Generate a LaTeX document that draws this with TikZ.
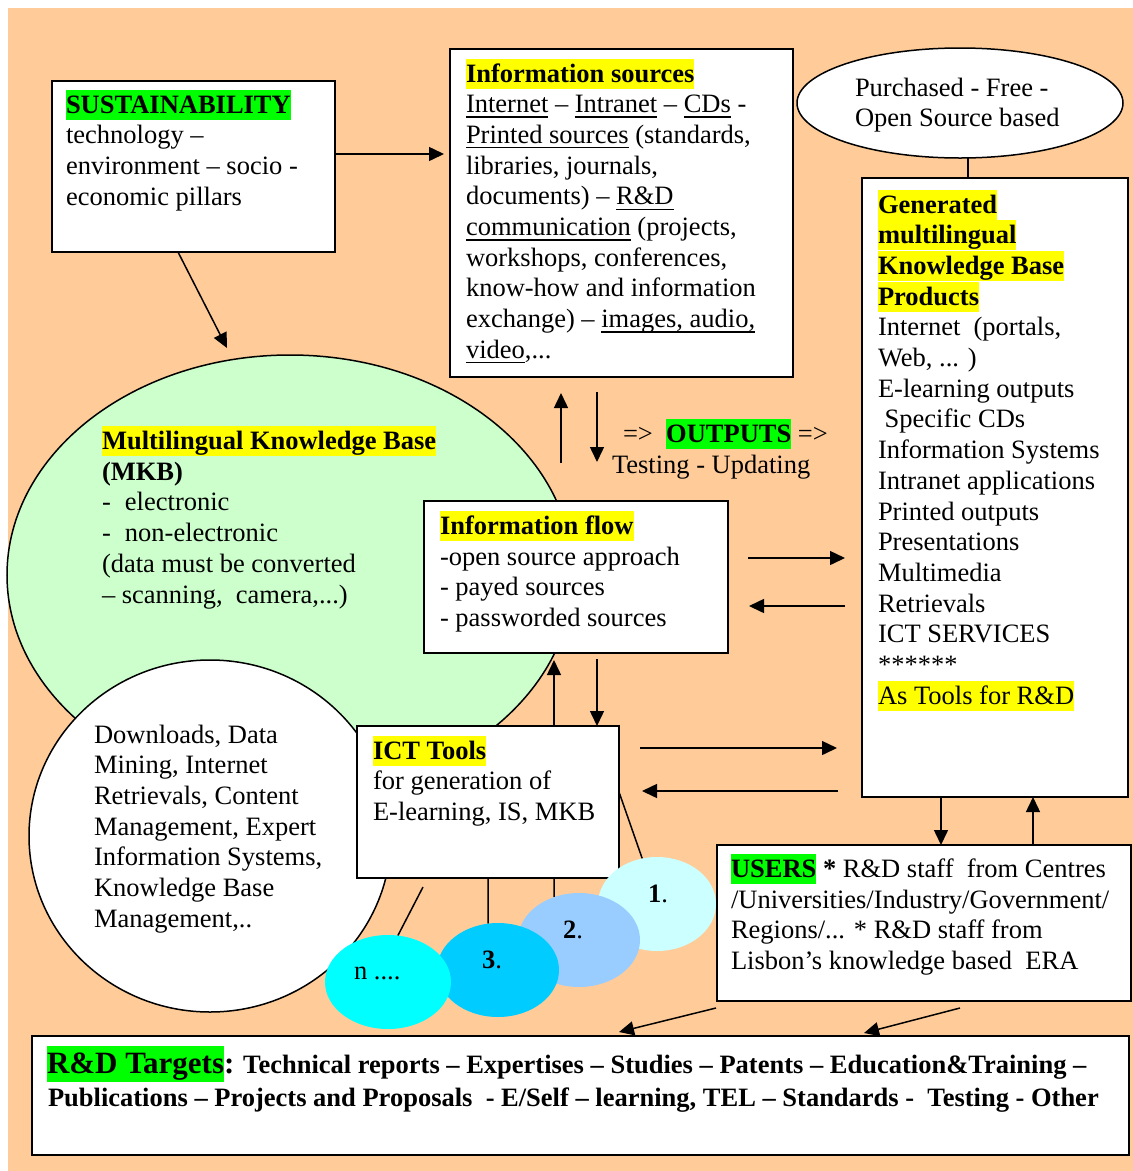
\documentclass[tikz,border=0pt]{standalone}
\usepackage{fontspec}
\setmainfont{Liberation Serif}
\usetikzlibrary{shapes.geometric,arrows.meta}
\pgfdeclarelayer{back}
\pgfdeclarelayer{mid}
\pgfsetlayers{back,mid,main}
\definecolor{bgpeach}{HTML}{FFCC99}
\definecolor{mkbgreen}{HTML}{CCFFCC}
\definecolor{hly}{HTML}{FFFF00}
\definecolor{hlg}{HTML}{00FF00}
\definecolor{eone}{HTML}{CCFFFF}
\definecolor{etwo}{HTML}{99CCFF}
\definecolor{ethree}{HTML}{00CCFF}
\definecolor{enn}{HTML}{00FFFF}
\newsavebox\ulbox
\newcommand\myul[1]{\sbox\ulbox{#1}\rlap{\rule[-5pt]{\wd\ulbox}{1.3pt}}\usebox\ulbox}
\newcommand\hly[1]{{\setlength{\fboxsep}{0pt}\colorbox{hly}{\rule[-6.5pt]{0pt}{30pt}#1}}}
\newcommand\hlg[1]{{\setlength{\fboxsep}{0pt}\colorbox{hlg}{\rule[-6.5pt]{0pt}{30pt}#1}}}
\newcommand\hlgbig[1]{{\setlength{\fboxsep}{0pt}\colorbox{hlg}{\rule[-8pt]{0pt}{36pt}#1}}}
\newcommand\fst{\rule{0pt}{23.5pt}}
\newcommand\dsh{\makebox[23pt][l]{-}}
\tikzset{
  box/.style={draw=black, line width=1.5pt, fill=white, inner sep=0pt, outer sep=0pt, anchor=north west},
  txt/.style={inner sep=0pt, outer sep=0pt, anchor=north west, align=left},
  lbl/.style={inner sep=0pt, outer sep=0pt, anchor=base west},
  arr/.style={line width=1.5pt, -{Triangle[length=15pt,width=14pt]}},
  link/.style={line width=1.5pt},
  blob/.style={ellipse, inner sep=0pt, outer sep=0pt, draw=none},
}
\begin{document}
\begin{tikzpicture}[x=1pt,y=-1pt,font=\fontsize{26.5}{30.7}\selectfont]
\useasboundingbox (0,0) rectangle (1133,1171);
\begin{pgfonlayer}{back}
\fill[white] (0,0) rectangle (1133,1171);
\fill[bgpeach] (8,8) rectangle (1133,1171);
\node[blob, draw=black, line width=1.5pt, fill=mkbgreen, minimum width=566pt, minimum height=440pt] (mkb) at (290,575) {};
\node[blob, draw=black, line width=1.5pt, fill=white, minimum width=362pt, minimum height=352pt] (dl) at (210,836) {};
\end{pgfonlayer}

% boxes
\node[box, minimum width=283pt, minimum height=171pt] (sust) at (52,81) {};
\node[box, minimum width=343pt, minimum height=328pt] (info) at (450,49) {};
\node[blob, draw=black, line width=1.5pt, fill=white, minimum width=326pt, minimum height=110pt] (src) at (960,103) {};
\node[box, minimum width=266pt, minimum height=619pt] (gen) at (862,178) {};
\draw[link] ([xshift=8pt]src.south) -- ([xshift=106pt]gen.north west);
\node[box, minimum width=304pt, minimum height=152pt] (flow) at (424,501) {};
\node[box, minimum width=262pt, minimum height=152pt] (ict) at (357,726) {};

% numbered ellipses
\node[blob, fill=eone, minimum width=118pt, minimum height=94pt] (one) at (657,904) {};
\node[blob, fill=etwo, minimum width=122pt, minimum height=94pt] (two) at (579,940) {};
\node[blob, fill=ethree, minimum width=122pt, minimum height=94pt] (three) at (498,970) {};
\node[blob, fill=enn, minimum width=126pt, minimum height=94pt] (nn) at (388,982) {};
\begin{pgfonlayer}{mid}
\draw[link] ([yshift=-66pt]ict.north east) -- (one.108);
\draw[link] ([xshift=197pt]ict.south west) -- (two.120);
\draw[link] ([xshift=131pt]ict.south west) -- (three.102);
\draw[link] ([xshift=66pt,yshift=-9pt]ict.south west) -- (nn.78);
\end{pgfonlayer}

\node[box, minimum width=414pt, minimum height=156pt] (users) at (717,845) {};
\node[box, minimum width=1097pt, minimum height=119pt] (rd) at (32,1036) {};

% arrows
\draw[arr] ([yshift=-73pt]sust.north east) -- ([xshift=-6pt,yshift=-105pt]info.north west);
\draw[arr] ([xshift=126pt]sust.south west) -- ([xshift=-63pt,yshift=7pt]mkb.north);
\draw[arr] ([xshift=137pt,yshift=38pt]flow.north west) -- ([xshift=111pt,yshift=-16pt]info.south west);
\draw[arr] ([xshift=147pt,yshift=-15pt]info.south west) -- ([xshift=173pt,yshift=39pt]flow.north west);
\draw[arr] ([xshift=20pt,yshift=-57pt]flow.north east) -- ([xshift=-17pt,yshift=-380pt]gen.north west);
\draw[arr] ([xshift=-17pt,yshift=-428pt]gen.north west) -- ([xshift=21pt,yshift=-105pt]flow.north east);
\draw[arr] ([xshift=21pt,yshift=-22pt]ict.north east) -- ([xshift=-25pt,yshift=-570pt]gen.north west);
\draw[arr] ([xshift=-24pt,yshift=-613pt]gen.north west) -- ([xshift=23pt,yshift=-65pt]ict.north east);
\draw[arr] ([xshift=197pt]ict.north west) -- ([xshift=130pt,yshift=-7pt]flow.south west);
\draw[arr] ([xshift=173pt,yshift=-6pt]flow.south west) -- ([xshift=240pt]ict.north west);
\draw[arr] ([xshift=79pt]gen.south west) -- ([xshift=224pt]users.north west);
\draw[arr] ([xshift=316pt]users.north west) -- ([xshift=171pt]gen.south west);
\draw[arr] ([xshift=-1pt,yshift=-7pt]users.south west) -- ([xshift=587pt,yshift=4pt]rd.north west);
\draw[arr] ([xshift=243pt,yshift=-7pt]users.south west) -- ([xshift=832pt,yshift=3pt]rd.north west);

% texts
\node[txt] (tsust) at (66,89.5) {\hlg{\textbf{SUSTAINABILITY}}\\technology –\\environment – socio -\\economic pillars};
\node[txt] (tinfo) at (466,58.5) {\hly{\textbf{Information sources}}\\
\myul{Internet} – \myul{Intranet} – \myul{CDs} -\\
\myul{Printed sources} (standards,\\
libraries, journals,\\
documents) – \myul{R\&D}\\
\myul{communication} (projects,\\
workshops, conferences,\\
know-how and information\\
exchange) – \myul{images, audio,}\\
\myul{video},...};
\node[txt] (tsrc) at (855,72.5) {\fst Purchased - Free -\\Open Source based};
\node[txt] (tgen) at (878,189.5) {\hly{\textbf{Generated}}\\\hly{\textbf{multilingual}}\\\hly{\textbf{Knowledge Base}}\\\hly{\textbf{Products}}\\
Internet~ (portals,\\Web, ... )\\E-learning outputs\\~Specific CDs\\Information Systems\\Intranet applications\\Printed outputs\\Presentations\\Multimedia\\Retrievals\\ICT SERVICES\\******\\\hly{As Tools for R\&D}};
\node[txt] (tmkb) at (102,426) {\hly{\textbf{Multilingual Knowledge Base}}\\\textbf{(MKB)}\\\dsh electronic\\\dsh non-electronic\\(data must be converted\\– scanning,~ camera,...)};
\node[txt] (tflow) at (440,511) {\hly{\textbf{Information flow}}\\-open source approach\\- payed sources\\- passworded sources};
\node[txt] (tict) at (373,735.5) {\hly{\textbf{ICT Tools}}\\for generation of\\E-learning, IS, MKB};
\node[txt] (tdl) at (94,719.5) {\fst Downloads, Data\\Mining, Internet\\Retrievals, Content\\Management, Expert\\Information Systems,\\Knowledge Base\\Management,..};
\node[txt] (tusers) at (731,854) {\hlg{\textbf{USERS}} \textbf{*} R\&D staff~ from Centres\\/Universities/Industry/Government/\\Regions/... * R\&D staff from\\Lisbon’s knowledge based~ ERA};
\node[lbl] (tout) at (623,442) {=>~ \hlg{\textbf{OUTPUTS}} =>};
\node[lbl] (ttest) at (612,473.5) {Testing - Updating};
\node[lbl] (tone) at (648,902) {\textbf{1}.};
\node[lbl] (ttwo) at (563,938) {\textbf{2}.};
\node[lbl] (tthree) at (482,968) {\textbf{3}.};
\node[lbl] (tn) at (354,979) {n ....};
\node[lbl] (trda) at (47,1073.5) {\hlgbig{\fontsize{31}{36}\selectfont\textbf{R\&D Targets}}{\fontsize{31}{36}\selectfont\textbf{:}} \textbf{Technical reports – Expertises – Studies – Patents – Education\&Training –}};
\node[lbl] (trdb) at (48,1106) {\textbf{Publications – Projects and Proposals~ - E/Self – learning, TEL – Standards -~ Testing - Other}};
\end{tikzpicture}
\end{document}
